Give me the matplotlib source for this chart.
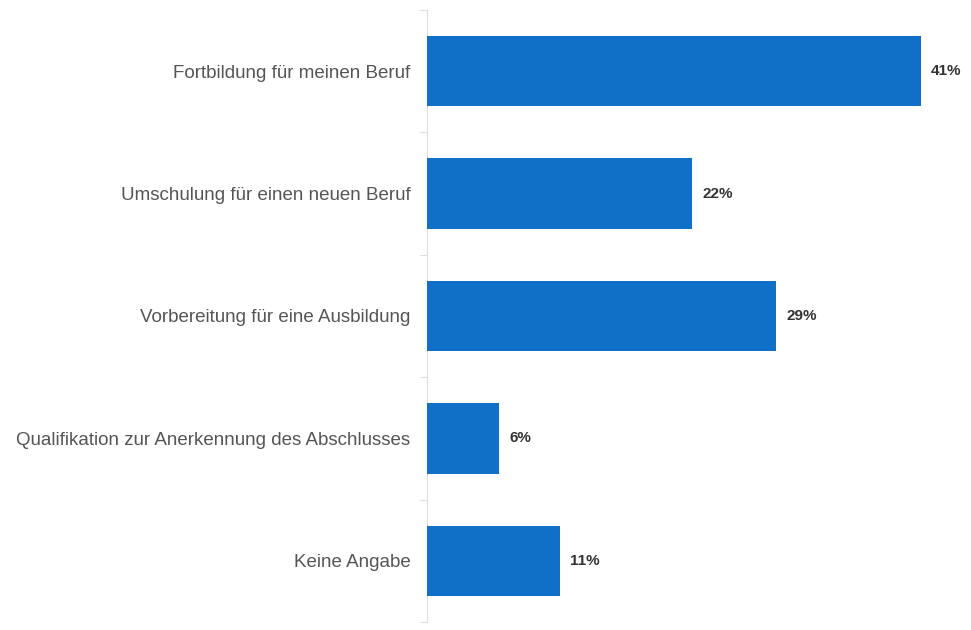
import matplotlib
matplotlib.use("Agg")
import matplotlib.pyplot as plt
import numpy as np

categories = [
    "Fortbildung für meinen Beruf",
    "Umschulung für einen neuen Beruf",
    "Vorbereitung für eine Ausbildung",
    "Qualifikation zur Anerkennung des Abschlusses",
    "Keine Angabe",
]
values = [41, 22, 29, 6, 11]
value_labels = ["41%", "22%", "29%", "6%", "11%"]

W, H = 971, 630
fig = plt.figure(figsize=(W / 100, H / 100), dpi=100)
ax_left, ax_right = 427, 962
ax_top, ax_bottom = 10, 622
ax = fig.add_axes([ax_left / W, 1 - ax_bottom / H, (ax_right - ax_left) / W, (ax_bottom - ax_top) / H])

n = len(categories)
y = np.arange(n)
ax.barh(y, values, height=0.574, color="#1070C8", zorder=3)
xmax = 41 * (ax_right - ax_left) / (921 - ax_left)
ax.set_xlim(0, xmax)
ax.set_ylim(n - 0.5, -0.5)

for yi, v, lab in zip(y, values, value_labels):
    ax.annotate(lab, (v, yi), xytext=(10, 0), textcoords="offset pixels",
                va="center", ha="left", fontsize=11, fontweight="bold",
                color="#333333", family="Liberation Sans")

ax.set_yticks(y)
ax.set_yticklabels(categories, family="Liberation Sans", fontsize=13.5, color="#555555")
ax.tick_params(axis="y", which="major", length=0, pad=12)
ax.set_yticks(np.arange(-0.5, n, 1.0), minor=True)
ax.tick_params(axis="y", which="minor", length=5, width=0.8, color="#dddddd")
ax.set_xticks([])

for s in ["top", "right", "bottom"]:
    ax.spines[s].set_visible(False)
ax.spines["left"].set_color("#dddddd")
ax.spines["left"].set_linewidth(0.8)

fig.savefig("out.png", dpi=100)
